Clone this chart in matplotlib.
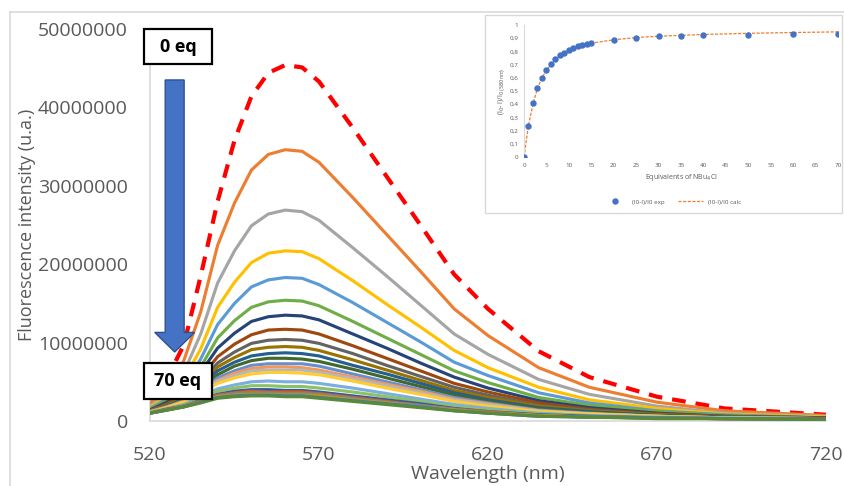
import matplotlib
matplotlib.use("Agg")
import matplotlib.pyplot as plt
import numpy as np
from matplotlib.patches import Rectangle, FancyArrow
from matplotlib.lines import Line2D

plt.rcParams['font.family'] = ['Open Sans', 'DejaVu Sans']

# emission spectra, intensity in units of 1e6
wavelength = [520, 525, 530, 535, 540, 545, 550, 555, 560, 565, 570,
              580, 590, 600, 610, 620, 635, 650, 670, 690, 720]

eq_labels = [0, 1, 2, 3, 4, 5, 6, 7, 8, 9, 10, 11, 12, 13, 14, 15,
             20, 25, 30, 35, 40, 50, 60, 70]

spectra = [
    [2.6, 5.4, 9.7, 18.5, 28.0, 35.8, 41.4, 44.4, 45.4, 45.1, 43.3, 37.4, 31.2, 25.0, 18.7, 14.3, 8.9, 5.6, 3.1, 1.6, 0.8],
    [2.2, 4.4, 7.7, 13.9, 22.4, 27.8, 32.0, 34.0, 34.6, 34.4, 33.0, 28.5, 23.8, 19.1, 14.3, 10.9, 6.8, 4.3, 2.4, 1.3, 0.7],
    [1.9, 3.6, 6.2, 11.1, 17.6, 21.7, 24.9, 26.4, 26.9, 26.7, 25.6, 22.1, 18.5, 14.8, 11.1, 8.5, 5.3, 3.4, 1.9, 1.0, 0.6],
    [1.7, 3.2, 5.3, 9.2, 14.5, 17.7, 20.2, 21.4, 21.7, 21.6, 20.7, 17.9, 14.9, 12.0, 9.0, 6.8, 4.3, 2.7, 1.6, 0.9, 0.5],
    [1.6, 2.8, 4.6, 7.9, 12.3, 15.0, 17.1, 18.0, 18.3, 18.2, 17.4, 15.1, 12.6, 10.1, 7.5, 5.8, 3.6, 2.3, 1.3, 0.8, 0.4],
    [1.5, 2.6, 4.1, 6.9, 10.6, 12.8, 14.5, 15.2, 15.4, 15.3, 14.7, 12.7, 10.6, 8.5, 6.4, 4.9, 3.0, 2.0, 1.2, 0.7, 0.4],
    [1.4, 2.4, 3.7, 6.2, 9.3, 11.2, 12.7, 13.3, 13.5, 13.4, 12.9, 11.1, 9.3, 7.4, 5.6, 4.2, 2.6, 1.7, 1.0, 0.6, 0.4],
    [1.3, 2.2, 3.4, 5.5, 8.2, 9.8, 11.0, 11.6, 11.7, 11.6, 11.1, 9.6, 8.0, 6.4, 4.8, 3.7, 2.3, 1.5, 0.9, 0.6, 0.4],
    [1.3, 2.1, 3.1, 5.0, 7.4, 8.8, 9.9, 10.3, 10.4, 10.3, 9.9, 8.6, 7.1, 5.7, 4.3, 3.3, 2.0, 1.4, 0.8, 0.5, 0.3],
    [1.3, 2.0, 3.0, 4.7, 6.9, 8.1, 9.1, 9.4, 9.5, 9.4, 9.0, 7.8, 6.5, 5.2, 3.9, 3.0, 1.9, 1.3, 0.8, 0.5, 0.3],
    [1.2, 1.9, 2.8, 4.4, 6.4, 7.5, 8.3, 8.6, 8.7, 8.6, 8.3, 7.1, 6.0, 4.8, 3.6, 2.7, 1.7, 1.2, 0.7, 0.5, 0.3],
    [1.2, 1.9, 2.7, 4.1, 5.9, 7.0, 7.7, 8.0, 8.0, 7.9, 7.6, 6.6, 5.5, 4.4, 3.3, 2.5, 1.6, 1.1, 0.7, 0.4, 0.3],
    [1.2, 1.8, 2.6, 3.9, 5.5, 6.4, 7.1, 7.3, 7.3, 7.3, 7.0, 6.0, 5.0, 4.0, 3.0, 2.3, 1.4, 1.0, 0.6, 0.4, 0.3],
    [1.2, 1.8, 2.5, 3.7, 5.2, 6.1, 6.7, 6.9, 6.9, 6.8, 6.5, 5.6, 4.7, 3.8, 2.8, 2.2, 1.3, 0.9, 0.6, 0.4, 0.3],
    [1.1, 1.7, 2.4, 3.6, 5.1, 5.8, 6.4, 6.5, 6.5, 6.5, 6.2, 5.4, 4.5, 3.6, 2.7, 2.1, 1.3, 0.9, 0.6, 0.4, 0.3],
    [1.1, 1.7, 2.4, 3.5, 4.8, 5.5, 6.0, 6.2, 6.2, 6.1, 5.9, 5.1, 4.2, 3.4, 2.5, 1.9, 1.2, 0.9, 0.6, 0.4, 0.3],
    [1.1, 1.6, 2.1, 3.1, 4.1, 4.6, 5.0, 5.1, 5.0, 5.0, 4.8, 4.2, 3.5, 2.8, 2.1, 1.6, 1.0, 0.7, 0.5, 0.4, 0.3],
    [1.1, 1.5, 2.0, 2.8, 3.8, 4.2, 4.5, 4.5, 4.4, 4.4, 4.2, 3.7, 3.1, 2.5, 1.8, 1.4, 0.9, 0.6, 0.4, 0.3, 0.3],
    [1.0, 1.5, 1.9, 2.6, 3.4, 3.8, 4.0, 4.0, 3.9, 3.9, 3.7, 3.2, 2.7, 2.2, 1.6, 1.2, 0.8, 0.6, 0.4, 0.3, 0.3],
    [1.0, 1.5, 1.9, 2.6, 3.3, 3.6, 3.8, 3.7, 3.7, 3.7, 3.5, 3.0, 2.5, 2.0, 1.5, 1.2, 0.7, 0.5, 0.4, 0.3, 0.2],
    [1.0, 1.4, 1.9, 2.5, 3.2, 3.5, 3.6, 3.6, 3.5, 3.5, 3.4, 2.9, 2.4, 2.0, 1.5, 1.1, 0.7, 0.5, 0.4, 0.3, 0.2],
    [1.0, 1.4, 1.8, 2.4, 3.1, 3.3, 3.4, 3.4, 3.3, 3.3, 3.2, 2.7, 2.3, 1.8, 1.4, 1.0, 0.7, 0.5, 0.4, 0.3, 0.2],
    [1.0, 1.4, 1.8, 2.4, 3.0, 3.2, 3.3, 3.3, 3.2, 3.2, 3.0, 2.6, 2.2, 1.8, 1.3, 1.0, 0.6, 0.5, 0.4, 0.3, 0.2],
    [1.0, 1.4, 1.8, 2.3, 2.9, 3.1, 3.2, 3.2, 3.1, 3.1, 2.9, 2.5, 2.1, 1.7, 1.3, 1.0, 0.6, 0.5, 0.3, 0.3, 0.2],
]

# excel palette, first series is overridden by the red dashed line
colors = ['#FF0000', '#ED7D31', '#A5A5A5', '#FFC000', '#5B9BD5', '#70AD47',
          '#264478', '#9E480E', '#636363', '#997300', '#255E91', '#43682B',
          '#698ED0', '#F1975A', '#B7B7B7', '#FFCD33', '#7CAFDD', '#8CC168',
          '#335AA1', '#D26012', '#848484', '#CC9A00', '#327DC2', '#5A8A39']

y_ticks = [0, 10000000, 20000000, 30000000, 40000000, 50000000]
y_tick_labels = ['0', '10000000', '20000000', '30000000', '40000000', '50000000']
x_ticks = [520, 570, 620, 670, 720]

# inset: titration curve
equiv = [0, 1, 2, 3, 4, 5, 6, 7, 8, 9, 10, 11, 12, 13, 14, 15, 20, 25, 30, 35, 40, 50, 60, 70]
ratio_exp = [0, 0.237, 0.408, 0.521, 0.597, 0.66, 0.703, 0.743, 0.771, 0.791, 0.809, 0.824,
             0.839, 0.849, 0.856, 0.864, 0.889, 0.902, 0.914, 0.919, 0.922, 0.927, 0.93, 0.932]
ratio_calc = [0, 0.24, 0.40, 0.52, 0.60, 0.655, 0.70, 0.735, 0.765, 0.79, 0.805, 0.82,
              0.835, 0.845, 0.855, 0.862, 0.888, 0.905, 0.915, 0.922, 0.928, 0.937, 0.943, 0.948]

W, H = 844, 486
fig = plt.figure(figsize=(W / 100, H / 100), dpi=100)
fig.patch.set_facecolor('white')

grey = '#595959'
ax = fig.add_axes([150 / W, 1 - 421 / H, 676 / W, 392 / H])

for i, s in enumerate(spectra):
    y = np.array(s) * 1e6
    if i == 0:
        ax.plot(wavelength, y, color=colors[i], lw=3, dashes=(3.3, 2.4), zorder=2)
    else:
        ax.plot(wavelength, y, color=colors[i], lw=2.25, solid_capstyle='round',
                solid_joinstyle='round', zorder=3)

ax.set_xlim(520, 720)
ax.set_ylim(0, 50000000)
ax.set_xticks(x_ticks)
ax.set_xticklabels([str(t) for t in x_ticks])
ax.set_yticks(y_ticks)
ax.set_yticklabels(y_tick_labels)
ax.tick_params(length=0, labelsize=14, colors=grey, pad=18)
ax.tick_params(axis='y', pad=16)
for sp in ['top', 'right']:
    ax.spines[sp].set_visible(False)
for sp in ['left', 'bottom']:
    ax.spines[sp].set_color('#D9D9D9')
    ax.spines[sp].set_linewidth(1.2)

ax.set_xlabel('Wavelength (nm)', fontsize=14, color=grey)
ax.xaxis.set_label_coords(0.5, -0.112)
ax.set_ylabel('Fluorescence intensity (u.a.)', fontsize=13, color=grey)
ax.yaxis.set_label_coords(-0.168, 0.5)

# arrow 0 eq -> 70 eq
arr = FancyArrow(527.3, 43.5e6, 0, -34.7e6, width=5.6, head_width=11.8, head_length=2.5e6,
                 length_includes_head=True, fc='#4472C4', ec='#2F528F', lw=1, zorder=5,
                 clip_on=False)
ax.add_patch(arr)

for txt, y0, y1 in [('0 eq', 45.5e6, 50e6), ('70 eq', 2.8e6, 7.4e6)]:
    ax.add_patch(Rectangle((518.2, y0), 20.1, y1 - y0, fc='white', ec='black', lw=1.6,
                           zorder=6, clip_on=False))
    ax.text(528.3, (y0 + y1) / 2, txt, ha='center', va='center', fontsize=13,
            fontweight='bold', color='black', zorder=7)

# chart border (cropped)
fig.add_artist(Line2D([10 / W, 10 / W], [0, 1 - 12 / H], color='#D9D9D9', lw=1.2))
fig.add_artist(Line2D([10 / W, 1], [1 - 12 / H, 1 - 12 / H], color='#D9D9D9', lw=1.2))

# inset frame
fig.add_artist(Rectangle((485 / W, 1 - 213 / H), 357 / W, 198 / H, transform=fig.transFigure,
                         fc='white', ec='#D9D9D9', lw=1, zorder=8))

ins = fig.add_axes([524 / W, 1 - 157 / H, 314 / W, 132 / H], zorder=9)
ins.plot(equiv, ratio_calc, color='#ED7D31', lw=0.9, dashes=(2.5, 1.2),
         label='(I0-I)/I0 calc', zorder=2)
ins.plot(equiv, ratio_exp, 'o', color='#4472C4', ms=3.6, label='(I0-I)/I0 exp', zorder=3)
ins.set_xlim(0, 70)
ins.set_ylim(0, 1)
ins.set_xticks(range(0, 71, 5))
ins.set_yticks(np.arange(0, 1.01, 0.1))
ins.set_yticklabels(['0'] + ['0,%d' % k for k in range(1, 10)] + ['1'])
ins.tick_params(length=0, labelsize=4.5, colors=grey, pad=4)
for sp in ['top', 'right', 'bottom']:
    ins.spines[sp].set_visible(False)
ins.spines['left'].set_color('#D9D9D9')
ins.spines['left'].set_linewidth(0.8)
ins.set_xlabel('Equivalents of NBu$_4$Cl', fontsize=5, color=grey, labelpad=3)
ins.set_ylabel('(I$_0$- I)/I$_{0\\ (580nm)}$', fontsize=5, color=grey, labelpad=2)
h, l = ins.get_legend_handles_labels()
ins.legend([h[1], h[0]], [l[1], l[0]], ncol=2, fontsize=4.5, frameon=False,
           loc='center', bbox_to_anchor=(0.47, -0.34), handlelength=4, columnspacing=2,
           labelcolor=grey)

fig.savefig('out.png', dpi=100)
